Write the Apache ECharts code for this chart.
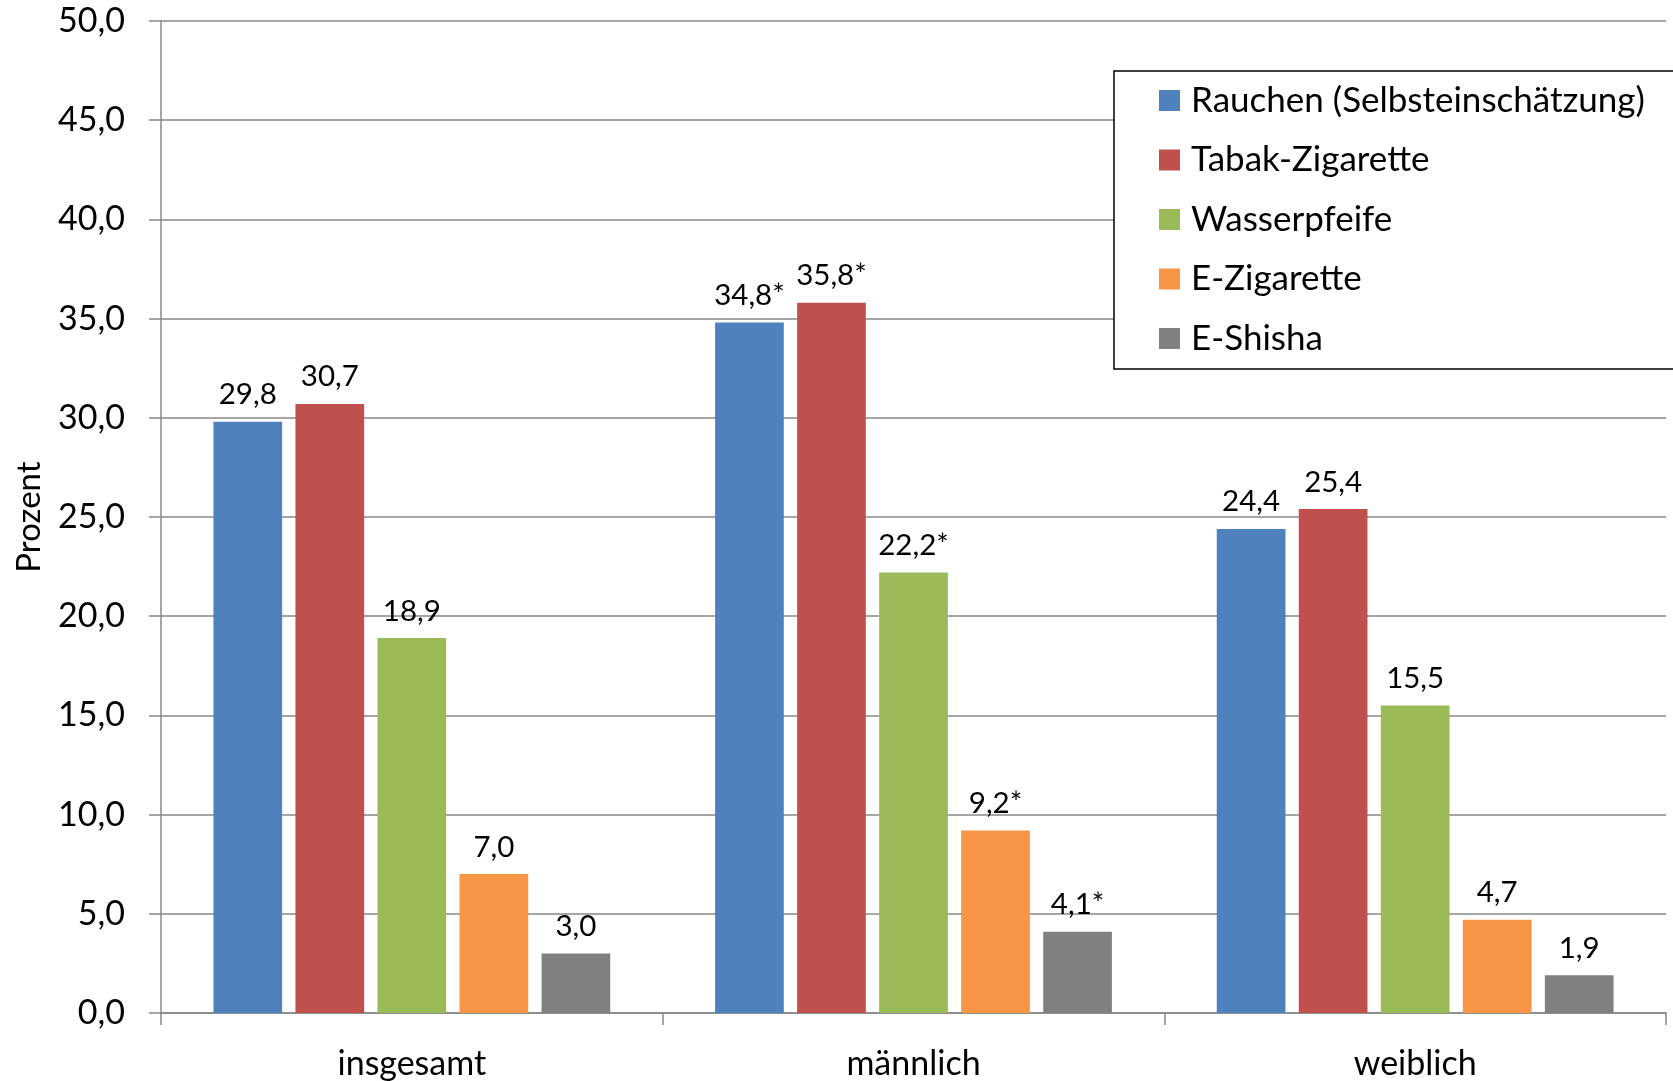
<!DOCTYPE html>
<html>
<head>
<meta charset="utf-8">
<script src="https://cdn.jsdelivr.net/npm/echarts@6/dist/echarts.min.js"></script>
<style>
  html, body { margin: 0; padding: 0; background: #fff; }
  #chart { width: 1673px; height: 1081px; }
</style>
</head>
<body>
<div id="chart"></div>
<script>
// Groups on the x axis
const categories = ['insgesamt', 'männlich', 'weiblich'];

// Series names (legend order)
const seriesNames = ['Rauchen (Selbsteinschätzung)', 'Tabak-Zigarette', 'Wasserpfeife', 'E-Zigarette', 'E-Shisha'];

// Percentages per series, one value per group
const rauchen        = [29.8, 34.8, 24.4];
const tabakZigarette = [30.7, 35.8, 25.4];
const wasserpfeife   = [18.9, 22.2, 15.5];
const eZigarette     = [7.0, 9.2, 4.7];
const eShisha        = [3.0, 4.1, 1.9];

// Significance markers appended to the value labels, per group
const significance = ['', '*', ''];

// Y axis ticks
const yMin = 0, yMax = 50, yStep = 5;

const seriesValues = [rauchen, tabakZigarette, wasserpfeife, eZigarette, eShisha];
const colors = ['#4F81BD', '#C0504D', '#9BBB59', '#F79646', '#808080'];

const FONT = 'Lato';
const AXIS_GRAY = '#888888';
const fmt = v => v.toFixed(1).replace('.', ',');

const chart = echarts.init(document.getElementById('chart'), null, { renderer: 'canvas' });

chart.setOption({
  animation: false,
  backgroundColor: '#ffffff',
  textStyle: { fontFamily: FONT, color: '#000' },
  grid: { left: 161, right: 7, top: 21, bottom: 67, containLabel: false },
  legend: {
    orient: 'vertical',
    left: 1114,
    top: 71,
    data: seriesNames,
    icon: 'rect',
    itemWidth: 21,
    itemHeight: 21,
    itemGap: 24.5,
    padding: [12, 80, 13, 45],
    borderColor: '#000',
    borderWidth: 1.5,
    backgroundColor: '#fff',
    textStyle: { fontFamily: FONT, fontSize: 35, color: '#000', lineHeight: 34, padding: [0, 0, 0, 6] }
  },
  xAxis: {
    type: 'category',
    data: categories,
    axisLine: { lineStyle: { color: AXIS_GRAY, width: 1.5 } },
    axisTick: { show: true, length: 12, lineStyle: { color: AXIS_GRAY, width: 1.5 } },
    axisLabel: { fontFamily: FONT, fontSize: 34, color: '#000', margin: 34 }
  },
  yAxis: {
    type: 'value',
    min: yMin,
    max: yMax,
    interval: yStep,
    name: 'Prozent',
    nameLocation: 'middle',
    nameGap: 115,
    nameRotate: 90,
    nameTextStyle: { fontFamily: FONT, fontSize: 33, color: '#000' },
    axisLine: { show: true, lineStyle: { color: AXIS_GRAY, width: 1.5 } },
    axisTick: { show: true, length: 12, lineStyle: { color: AXIS_GRAY, width: 1.5 } },
    axisLabel: { fontFamily: FONT, fontSize: 34, color: '#000', margin: 36, formatter: v => fmt(v) },
    splitLine: { show: true, lineStyle: { color: AXIS_GRAY, width: 1.5 } }
  },
  series: seriesNames.map((name, i) => ({
    name,
    type: 'bar',
    data: seriesValues[i],
    barWidth: 68.7,
    barGap: '19.4%',
    itemStyle: { color: colors[i] },
    label: {
      show: true,
      position: 'top',
      distance: 12,
      fontFamily: FONT,
      fontSize: 29.5,
      color: '#000',
      formatter: p => fmt(p.value) + significance[p.dataIndex]
    }
  }))
});
</script>
</body>
</html>
